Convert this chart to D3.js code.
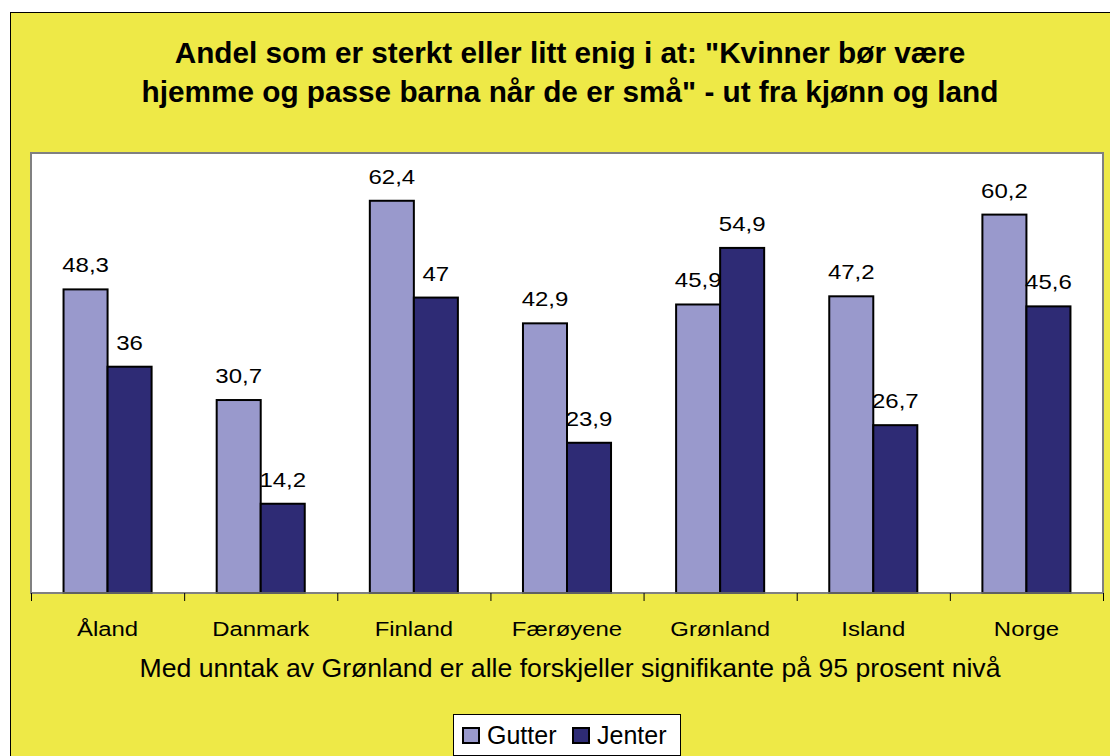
<!DOCTYPE html>
<html>
<head>
<meta charset="utf-8">
<script src="https://cdn.jsdelivr.net/npm/d3@7"></script>
<style>
  html, body { margin: 0; padding: 0; background: #fff; }
  svg { display: block; font-family: "Liberation Sans", Arial, sans-serif; }
</style>
</head>
<body>
<svg id="chart" width="1110" height="756"></svg>
<script>
const categories = ["Åland", "Danmark", "Finland", "Færøyene", "Grønland", "Island", "Norge"];
const seriesNames = ["Gutter", "Jenter"];
const gutter = [48.3, 30.7, 62.4, 42.9, 45.9, 47.2, 60.2];
const jenter = [36, 14.2, 47, 23.9, 54.9, 26.7, 45.6];
const titleLines = ['Andel som er sterkt eller litt enig i at: "Kvinner bør være', 'hjemme og passe barna når de er små" - ut fra kjønn og land'];
const subtitle = "Med unntak av Grønland er alle forskjeller signifikante på 95 prosent nivå";

const colors = { Gutter: "#9999CC", Jenter: "#2E2B75" };
const svg = d3.select("#chart");

function stretched(sel, x, y, sx) {
  return sel.attr("transform", `translate(${x},${y}) scale(${sx},1)`);
}

// outer chart area
svg.append("rect").attr("x", 10.5).attr("y", 12.5).attr("width", 1120).attr("height", 760)
  .attr("fill", "#EEE947").attr("stroke", "#000").attr("stroke-width", 1);

// title
titleLines.forEach((t, i) => {
  stretched(svg.append("text"), 570, 63 + i * 39, 1.015)
    .attr("text-anchor", "middle").attr("font-weight", "bold")
    .attr("font-size", 29.3).attr("fill", "#000").text(t);
});

const plot = { left: 31, top: 153, right: 1103, bottom: 593 };
svg.append("rect").attr("x", plot.left).attr("y", plot.top)
  .attr("width", plot.right - plot.left).attr("height", plot.bottom - plot.top)
  .attr("fill", "#fff").attr("stroke", "#808080").attr("stroke-width", 2);

const x0 = d3.scaleBand().domain(categories).range([plot.left, plot.right]).paddingInner(0.425).paddingOuter(0.2125);
const x1 = d3.scaleBand().domain(seriesNames).range([0, x0.bandwidth()]);
const y = d3.scaleLinear().domain([0, 70]).range([plot.bottom, plot.top]);

const data = categories.map((c, i) => ({ cat: c, values: [
  { key: "Gutter", value: gutter[i] }, { key: "Jenter", value: jenter[i] } ] }));

const groups = svg.append("g").selectAll("g").data(data).join("g")
  .attr("transform", d => `translate(${x0(d.cat)},0)`);
groups.selectAll("rect").data(d => d.values).join("rect")
  .attr("x", d => x1(d.key)).attr("y", d => y(d.value))
  .attr("width", x1.bandwidth()).attr("height", d => y(0) - y(d.value))
  .attr("fill", d => colors[d.key]).attr("stroke", "#000").attr("stroke-width", 2);
groups.selectAll("text").data(d => d.values).join("text")
  .attr("transform", d => `translate(${x1(d.key) + x1.bandwidth() / 2},${y(d.value) - 17}) scale(1.2,1)`)
  .attr("text-anchor", "middle").attr("font-size", 20).attr("fill", "#000")
  .text(d => String(d.value).replace(".", ","));

// x axis
const xAxisScale = d3.scalePoint().domain(d3.range(categories.length + 1)).range([plot.left, plot.right]);
const axis = svg.append("g");
axis.append("line").attr("x1", plot.left).attr("x2", plot.right).attr("y1", plot.bottom).attr("y2", plot.bottom)
  .attr("stroke", "#808080").attr("stroke-width", 1.5);
axis.selectAll("line.tick").data(xAxisScale.domain()).join("line").attr("class", "tick")
  .attr("x1", d => xAxisScale(d) + 0.5).attr("x2", d => xAxisScale(d) + 0.5)
  .attr("y1", plot.bottom).attr("y2", plot.bottom + 8).attr("stroke", "#000").attr("stroke-width", 1);
axis.selectAll("text").data(categories).join("text")
  .attr("transform", d => `translate(${x0(d) + x0.bandwidth() / 2},636) scale(1.14,1)`)
  .attr("text-anchor", "middle").attr("font-size", 21).attr("fill", "#000").text(d => d);

stretched(svg.append("text"), 570, 677, 1.065).attr("text-anchor", "middle")
  .attr("font-size", 25).attr("fill", "#000").text(subtitle);

// legend
const lg = svg.append("g");
lg.append("rect").attr("x", 453.5).attr("y", 714.5).attr("width", 227).attr("height", 41)
  .attr("fill", "#fff").attr("stroke", "#000").attr("stroke-width", 1);
const legendX = [463, 573];
seriesNames.forEach((s, i) => {
  lg.append("rect").attr("x", legendX[i]).attr("y", 728).attr("width", 16).attr("height", 15)
    .attr("fill", colors[s]).attr("stroke", "#000").attr("stroke-width", 2);
  lg.append("text").attr("x", legendX[i] + 24).attr("y", 744).attr("font-size", 25).attr("fill", "#000").text(s);
});
</script>
</body>
</html>
